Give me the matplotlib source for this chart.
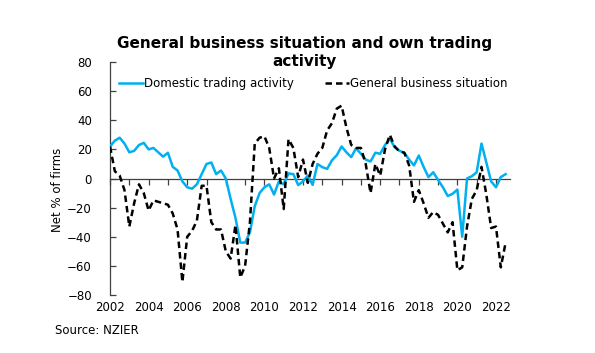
import matplotlib
matplotlib.use('Agg')
import matplotlib.pyplot as plt
import numpy as np

# Quarterly data, 2002Q1 - 2022Q3 (net % of firms)
start_year = 2002
domestic_trading = [
    22, 26, 28, 24,
    18, 19, 23, 24.5,
    20, 21, 18, 15,
    17.7, 8, 5.5, -2,
    -6, -7, -4, 3,
    10, 11, 3, 5.5,
    0, -14, -27, -44,
    -44, -37, -19, -10,
    -6, -4, -11, -2,
    -4, 3.5, 3, -4.5,
    -2, 2, -4.4, 10,
    7.8, 6.6, 12.5, 16,
    22, 18, 14.7, 20.8,
    17, 13, 11.7, 17.7,
    17, 23, 27.3, 21.5,
    19, 17.7, 13, 9,
    15.8, 8, 1, 4.3,
    -1, -6, -12, -10.5,
    -7.6, -40, 0, 1.6,
    4.3, 24, 11, -2,
    -6, 1, 3,
]
general_business = [
    22, 5, 2, -8,
    -33, -17, -4, -10,
    -22, -15, -16, -17,
    -18, -24, -35, -71,
    -40, -36, -29, -5,
    -5, -30, -35, -35,
    -50, -55, -32, -68,
    -60, -30, 24, 28,
    29, 21, 0, 7,
    -21, 27, 21, 1,
    13, -3, 10, 17,
    21, 33, 38, 48,
    50, 35, 23, 21,
    21, 10, -10, 10,
    2, 20, 30, 22,
    18.6, 17.7, 9, -16,
    -8, -17, -27, -23,
    -25, -31, -37, -30,
    -63, -61, -33, -14,
    -8, 8, -11, -34,
    -33, -61, -44,
]
year_labels = list(range(2002, 2023, 2))
y_ticks = list(range(-80, 81, 20))

t = start_year + np.arange(len(domestic_trading)) / 4

fig = plt.figure(figsize=(5.95, 3.53), dpi=100)
ax = fig.add_axes([0.1849, 0.1643, 0.673, 0.66])

ax.plot(t, domestic_trading, color='#00B0F0', lw=1.8,
        label='Domestic trading activity', zorder=3)
ax.plot(t, general_business, color='black', lw=1.8, linestyle=(0, (2.6, 1.6)),
        label='General business situation', zorder=4)

ax.set_xlim(2002, 2022.75)
ax.set_ylim(-80, 80)

# y axis: left spine only, ticks pointing inward
for s in ['top', 'right', 'bottom']:
    ax.spines[s].set_visible(False)
ax.spines['left'].set_color('#404040')
ax.spines['left'].set_linewidth(0.9)
ax.set_yticks(y_ticks)
ax.tick_params(axis='y', direction='in', length=4, width=0.9, color='#404040',
               labelsize=8.5, pad=13)

# x labels at bottom without ticks
ax.set_xticks(year_labels)
ax.tick_params(axis='x', length=0, labelsize=8.5, pad=4)

# zero line with yearly ticks
zero = ax.secondary_xaxis(0.5)
zero.set_xticks(range(2002, 2023))
zero.set_xticklabels([])
zero.tick_params(direction='in', length=4, width=0.9, color='#404040')
for s in zero.spines.values():
    s.set_color('#404040')
    s.set_linewidth(0.9)

ax.set_ylabel('Net % of firms', fontsize=8.5)
ax.yaxis.set_label_coords(-0.115, 0.45)

ax.legend(loc='upper left', bbox_to_anchor=(-0.016, 1.0), ncol=2, frameon=False,
          fontsize=8.5, handlelength=2.0, handletextpad=0.15, columnspacing=2.6,
          borderaxespad=0.9)

fig.text(0.512, 0.805, 'General business situation and own trading\nactivity',
         ha='center', va='bottom', fontsize=11, fontweight='bold', linespacing=1.25)
fig.text(0.092, 0.055, 'Source: NZIER', fontsize=8.5)

fig.savefig('out.png', dpi=100)
